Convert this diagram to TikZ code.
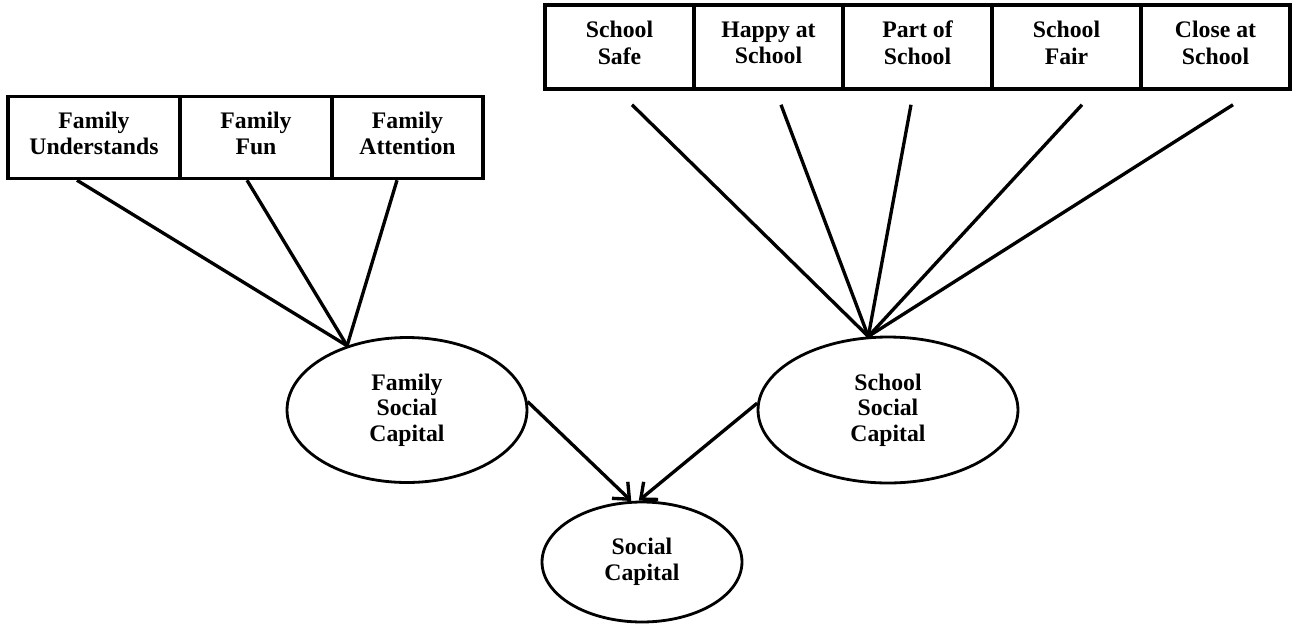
\documentclass[tikz,border=0pt]{standalone}
\usepackage{fontspec}
\setmainfont{Liberation Serif}
\usepackage{tikz}
\usetikzlibrary{shapes.geometric,
                arrows.meta}

\begin{document}
\begin{tikzpicture}[x=0.02cm,y=-0.02cm]  % <-- pixel grid

\tikzset{
itembox/.style={
draw=black,
line width=2pt,
minimum height=1.64cm,
inner sep=0pt,
align=center,
font=\fontsize{13.5}{15}\selectfont\bfseries
},
latent/.style={
ellipse,
draw=black,
line width=1.6pt,
align=center,
inner sep=0pt,
font=\fontsize{13.5}{14.5}\selectfont\bfseries
},
load/.style={
line width=1.9pt
},
path/.style={
line width=1.9pt,
-{Straight Barb[length=7.5pt,width=13pt]}
}
}

\useasboundingbox (0,0) rectangle (1296,623);

%----------------------------------
% FAMILY ITEMS
%----------------------------------

\node[itembox,minimum width=3.44cm] (famund) at (94,137.5) {Family\\Understands\\[-10pt]};
\node[itembox,minimum width=3.04cm] (famfun) at (256,137.5) {Family\\Fun\\[-10pt]};
\node[itembox,minimum width=3.02cm] (famatt) at (407.5,137.5) {Family\\Attention\\[-10pt]};

%----------------------------------
% SCHOOL ITEMS
%----------------------------------

\node[itembox,minimum width=2.98cm,minimum height=1.68cm] (schsafe) at (619.5,47) {School\\Safe\\[-10pt]};
\node[itembox,minimum width=2.98cm,minimum height=1.68cm] (schhappy) at (768.5,47) {Happy at\\School\\[-10pt]};
\node[itembox,minimum width=2.98cm,minimum height=1.68cm] (schpart) at (917.5,47) {Part of\\School\\[-10pt]};
\node[itembox,minimum width=2.98cm,minimum height=1.68cm] (schfair) at (1066.5,47) {School\\Fair\\[-10pt]};
\node[itembox,minimum width=2.98cm,minimum height=1.68cm] (schclose) at (1215.5,47) {Close at\\School\\[-10pt]};

%----------------------------------
% LATENT FACTORS
%----------------------------------

\node[latent,minimum width=4.8cm,minimum height=2.9cm] (famsc) at (407,410) {Family\\Social\\Capital};
\node[latent,minimum width=5.2cm,minimum height=2.92cm] (schsc) at (888,410) {School\\Social\\Capital};
\node[latent,minimum width=4cm,minimum height=2.4cm] (socc) at (642,562) {Social\\Capital};

\coordinate (famjoin) at (famsc.133);
\coordinate (schjoin) at (schsc.105);

%----------------------------------
% LOADINGS
%----------------------------------

\draw[load] ([xshift=-0.34cm]famund.south) -- (famjoin);
\draw[load] ([xshift=-0.18cm]famfun.south) -- (famjoin);
\draw[load] ([xshift=-0.21cm]famatt.south) -- (famjoin);

\draw[load] ([xshift=0.25cm,yshift=-0.28cm]schsafe.south) -- (schjoin);
\draw[load] ([xshift=0.25cm,yshift=-0.28cm]schhappy.south) -- (schjoin);
\draw[load] ([xshift=-0.13cm,yshift=-0.28cm]schpart.south) -- (schjoin);
\draw[load] ([xshift=0.31cm,yshift=-0.28cm]schfair.south) -- (schjoin);
\draw[load] ([xshift=0.35cm,yshift=-0.28cm]schclose.south) -- (schjoin);

%----------------------------------
% PATHS
%----------------------------------

\draw[path] (famsc.4) -- (socc.100);
\draw[path] (schsc.177) -- (socc.93);

\end{tikzpicture}
\end{document}
